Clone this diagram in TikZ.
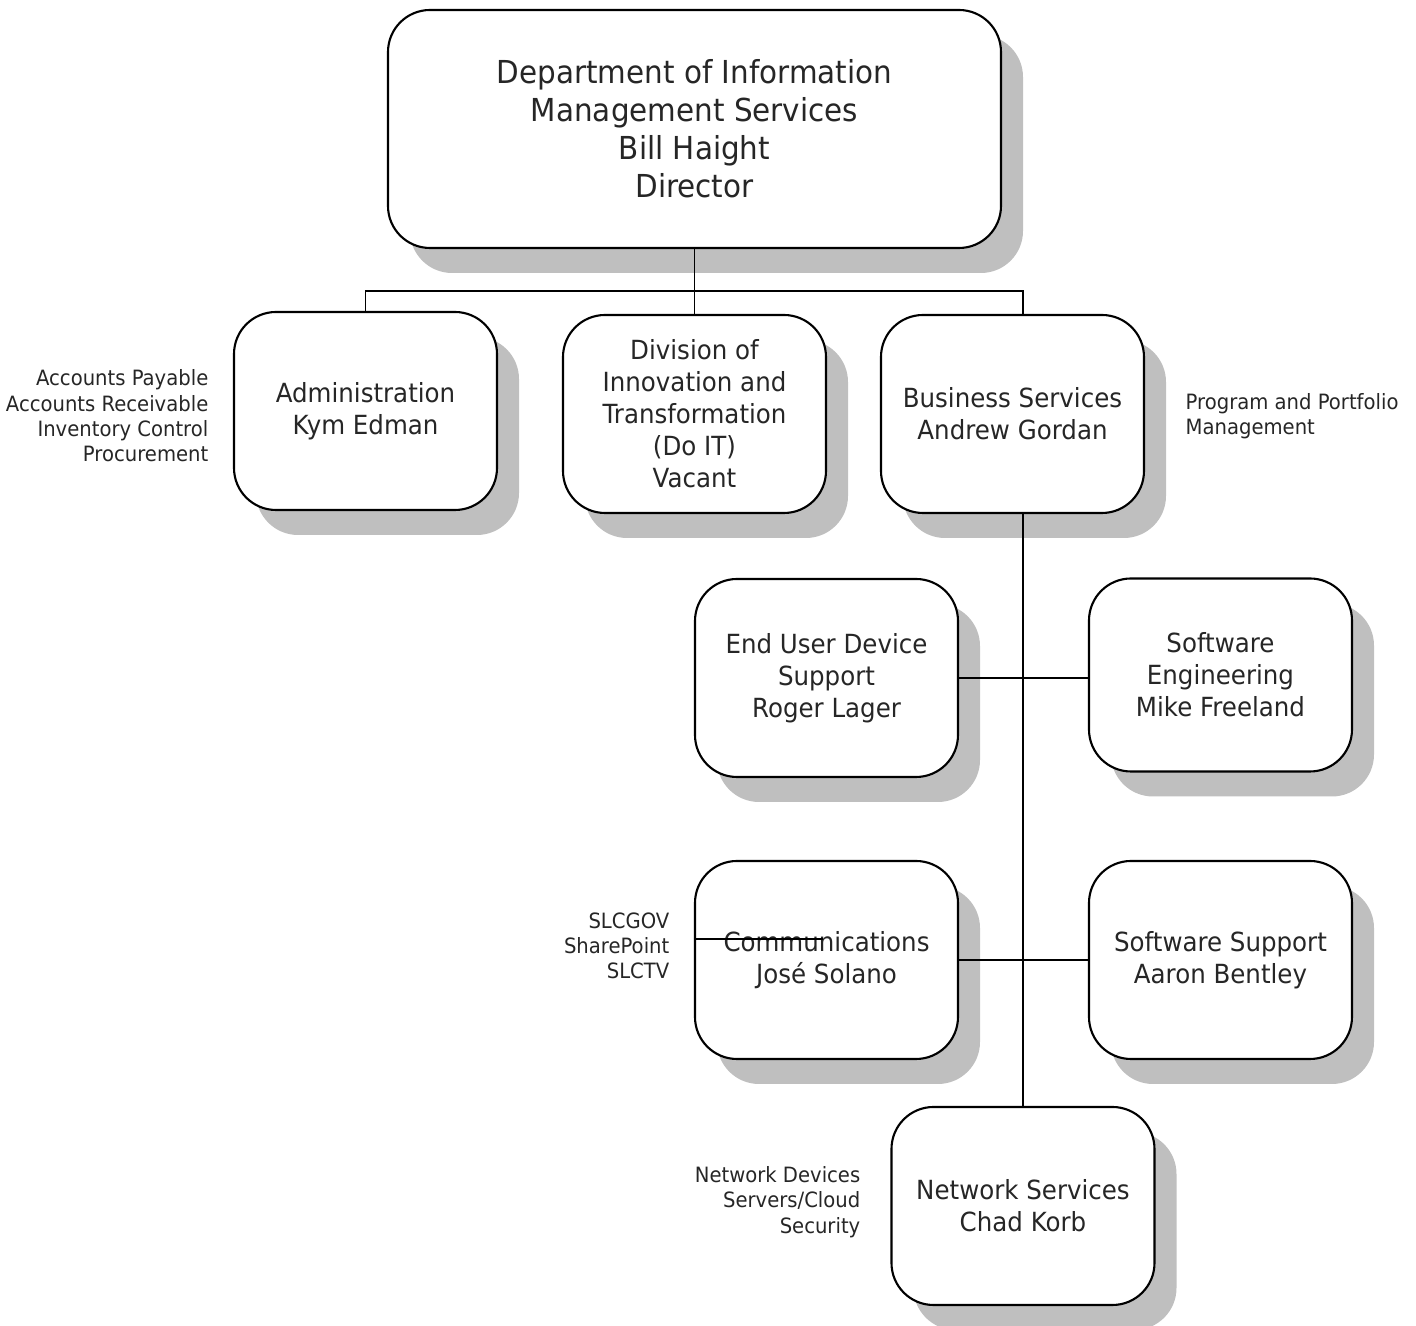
\documentclass[tikz,border=0pt]{standalone}
\usepackage{fontspec}
\setmainfont{DejaVu Sans}[FakeStretch=0.93]
\usetikzlibrary{shadows,positioning}

\tikzset{
  unit/.style={draw, line width=0.6pt, rounded corners=0.42cm, fill=white,
    align=center, inner sep=0pt, minimum width=2.63cm, minimum height=1.98cm,
    text=black!85, font=\fontsize{7.5}{9.1}\selectfont,
    drop shadow={shadow xshift=0.22cm, shadow yshift=-0.25cm, fill=black!25, opacity=1}},
  note/.style={font=\fontsize{6}{7.2}\selectfont, text=black!85, inner sep=0pt},
  link/.style={line width=0.5pt}
}

\begin{document}
\begin{tikzpicture}
    \useasboundingbox (0,0) rectangle (14.16,-13.26);

    % Director
    \node[unit, minimum width=6.13cm, minimum height=2.38cm, font=\fontsize{9}{10.8}\selectfont]
        (dir) at (6.945,-1.29) {Department of Information\\Management Services\\Bill Haight\\Director};

    % First level
    \node[unit] (admin) at (3.655,-4.11) {Administration\\Kym Edman};
    \node[unit] (doit) at (6.945,-4.14) {Division of\\Innovation and\\Transformation\\(Do IT)\\Vacant};
    \node[unit] (biz) at (10.125,-4.14) {Business Services\\Andrew Gordan};

    % Under business services
    \node[unit] (eud) at (8.265,-6.78) {End User Device\\Support\\Roger Lager};
    \node[unit, minimum height=1.93cm] (sweng) at (12.205,-6.75) {Software\\Engineering\\Mike Freeland};
    \node[unit] (comm) at (8.265,-9.60) {Communications\\José Solano};
    \node[unit] (swsup) at (12.205,-9.60) {Software Support\\Aaron Bentley};
    \node[unit] (net) at (10.23,-12.06) {Network Services\\Chad Korb};

    % Side notes
    \node[note, anchor=east, align=right] (adminnote) at (2.09,-4.16)
        {Accounts Payable\\Accounts Receivable\\Inventory Control\\Procurement};
    \node[note, anchor=west, align=left] (biznote) at (11.85,-4.16)
        {Program and Portfolio\\Management};
    \node[note, anchor=east, align=right] (commnote) at (6.70,-9.46)
        {SLCGOV\\SharePoint\\SLCTV};
    \node[note, anchor=east, align=right] (netnote) at (8.61,-12.02)
        {Network Devices\\Servers/Cloud\\Security};

    % Connections
    \coordinate (bus) at (6.945,-2.91);
    \coordinate (spine) at (10.23,-3.15);
    \draw[link] (dir.south) -- (bus);
    \draw[link] (admin.north) -- (admin.north |- bus) -- (spine |- bus) -- (spine);
    \draw[link] (doit.north) -- (doit.north |- bus);
    \draw[link] (biz.south -| spine) -- (net.north);
    \draw[link] (eud.east) -- (eud.east -| sweng.west);
    \draw[link] (comm.east) -- (swsup.west);
    \coordinate (stub) at (8.23,-9.39);
    \draw[link] (comm.west |- stub) -- (stub);
\end{tikzpicture}
\end{document}
